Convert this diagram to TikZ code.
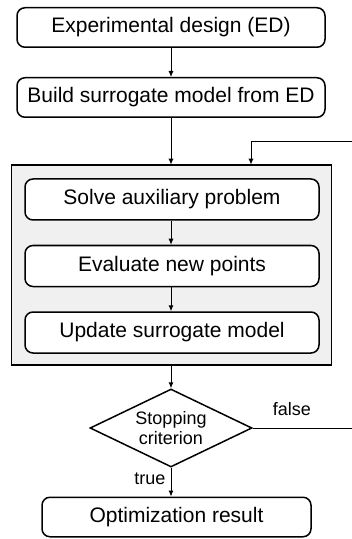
\documentclass[tikz,border=0pt]{standalone}
\usepackage{fontspec}
\setmainfont{Liberation Sans}
\usepackage{tikz}
\usetikzlibrary{arrows.meta, shapes.geometric, calc}

\begin{document}
\begin{tikzpicture} [x=0.5pt, y=-0.5pt,
    >={Latex[length=3pt,width=2.6pt]},
    font=\fontsize{10.5}{10}\selectfont,
    box/.style = {draw, fill=white, line width=0.75pt, rounded corners=4pt, inner sep=0pt, minimum height=19.75pt},
    el/.style = {inner sep=1pt, font=\fontsize{9}{9}\selectfont},
    ]
        \tikzset{BoxOuter/.style = {box, minimum width=154pt}}
        \tikzset{BoxInner/.style = {box, minimum width=147pt, minimum height=20.5pt}}
        \tikzset{Decision/.style = {draw, diamond, aspect=2.08, line width=0.75pt, minimum width=81pt, minimum height=39pt, inner sep=0pt, align=center, font=\fontsize{9}{10}\selectfont}}
        \tikzset{edge/.style = {->, line width=0.5pt}}
    \useasboundingbox (0,0) rectangle (352,539);
    \node[BoxOuter] at (171,27.5) (ed) {Experimental design (ED)};
    \node[BoxOuter] at (171,97.5) (build) {Build surrogate model from ED};
    % grey loop body
    \filldraw[fill={rgb,255:red,240;green,240;blue,240}, line width=0.6pt] (11.5,165) rectangle (331.5,365);
    \node[inner sep=0pt, minimum width=160pt, minimum height=100pt] at (171.5,265) (loop) {};
    \node[BoxInner] at (172,199.5) (solve) {Solve auxiliary problem};
    \node[BoxInner] at (172,266) (eval) {Evaluate new points};
    \node[BoxInner] at (172,332.5) (update) {Update surrogate model};
    \node[Decision] at (171,428) (crit) {Stopping\\criterion};
    \node[BoxOuter, minimum width=134.5pt] at (176.5,517) (result) {Optimization result};
    \coordinate (back) at (356,142);
    \coordinate (entry) at (251,0);

\path[edge]
    (ed) edge (ed |- build.north)
    (build) edge (build |- loop.north);
\draw[edge] (solve.south -| ed) -- (eval.north -| ed);
\draw[edge] (eval.south -| ed) -- (update.north -| ed);
\draw[edge] (loop.south -| ed) -- (crit.north);
\draw[edge] (crit.south) -- node[el, left, pos=0.38, xshift=-1.5pt] {true} (crit.south |- result.north);
\draw[edge] (crit.east) -- node[el, above, pos=0.38, yshift=5pt] {false} (crit.east -| back) -- (back) -| (loop.north -| entry);

\end{tikzpicture}
\end{document}
